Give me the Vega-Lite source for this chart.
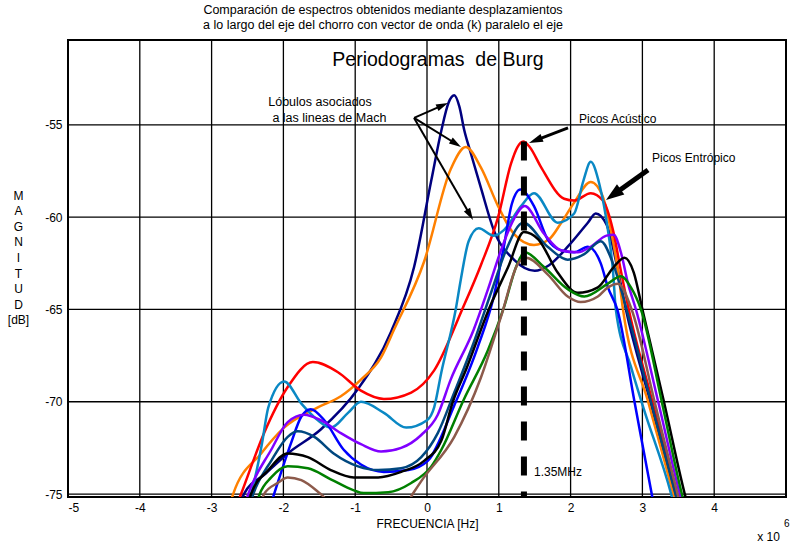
{
"$schema": "https://vega.github.io/schema/vega-lite/v6.json",
"width": 718, "height": 457,
"autosize": {"type": "none"},
"padding": {"left": 68, "top": 40, "right": 5, "bottom": 46},
"background": "white",
"title": {"text": ["Comparación de espectros obtenidos mediante desplazamientos", " a lo largo del eje del chorro con vector de onda (k) paralelo el eje"], "fontSize": 12.5, "fontWeight": "normal", "anchor": "middle", "dx": -44, "offset": 8, "lineHeight": 15, "color": "black", "font": "Liberation Sans"},
"datasets": {
"curves": [
{"s":"navy","x":-2.6,"y":-75.6},{"s":"navy","x":-2.55,"y":-75},{"s":"navy","x":-2.25,"y":-73.9},{"s":"navy","x":-1.94,"y":-72.8},{"s":"navy","x":-1.48,"y":-71.5},{"s":"navy","x":-0.96,"y":-69.3},{"s":"navy","x":-0.5,"y":-66.2},{"s":"navy","x":-0.18,"y":-62.7},{"s":"navy","x":0.06,"y":-58},{"s":"navy","x":0.2,"y":-55.3},{"s":"navy","x":0.3,"y":-53.8},{"s":"navy","x":0.38,"y":-53.4},{"s":"navy","x":0.45,"y":-54},{"s":"navy","x":0.52,"y":-55.3},{"s":"navy","x":0.6,"y":-56.4},{"s":"navy","x":0.75,"y":-58.4},{"s":"navy","x":0.93,"y":-60.7},{"s":"navy","x":1.21,"y":-62.3},{"s":"navy","x":1.5,"y":-62.9},{"s":"navy","x":1.7,"y":-62.6},{"s":"navy","x":1.96,"y":-61.6},{"s":"navy","x":2.24,"y":-60.3},{"s":"navy","x":2.35,"y":-59.8},{"s":"navy","x":2.5,"y":-60.4},{"s":"navy","x":2.66,"y":-62.9},{"s":"navy","x":2.77,"y":-65},{"s":"navy","x":3.11,"y":-70},{"s":"navy","x":3.45,"y":-75},{"s":"navy","x":3.49,"y":-75.6},
{"s":"orange","x":-2.75,"y":-75.6},{"s":"orange","x":-2.7,"y":-75},{"s":"orange","x":-2.31,"y":-72.8},{"s":"orange","x":-1.99,"y":-71.4},{"s":"orange","x":-1.52,"y":-70.3},{"s":"orange","x":-1.2,"y":-69.7},{"s":"orange","x":-0.92,"y":-68.8},{"s":"orange","x":-0.64,"y":-67.6},{"s":"orange","x":-0.46,"y":-66.1},{"s":"orange","x":-0.04,"y":-62.4},{"s":"orange","x":0.33,"y":-57.4},{"s":"orange","x":0.54,"y":-56.2},{"s":"orange","x":0.75,"y":-57.3},{"s":"orange","x":0.99,"y":-59.4},{"s":"orange","x":1.21,"y":-60.9},{"s":"orange","x":1.49,"y":-61.5},{"s":"orange","x":1.7,"y":-61.2},{"s":"orange","x":1.87,"y":-60.3},{"s":"orange","x":2.05,"y":-59.2},{"s":"orange","x":2.28,"y":-58.1},{"s":"orange","x":2.45,"y":-58.9},{"s":"orange","x":2.56,"y":-60.7},{"s":"orange","x":2.66,"y":-62.9},{"s":"orange","x":2.73,"y":-65},{"s":"orange","x":3.08,"y":-70},{"s":"orange","x":3.43,"y":-75},{"s":"orange","x":3.47,"y":-75.6},
{"s":"red","x":-2.65,"y":-75.6},{"s":"red","x":-2.59,"y":-75},{"s":"red","x":-2.27,"y":-71.7},{"s":"red","x":-1.94,"y":-69.2},{"s":"red","x":-1.59,"y":-67.85},{"s":"red","x":-1.24,"y":-68.4},{"s":"red","x":-0.92,"y":-69.4},{"s":"red","x":-0.6,"y":-69.85},{"s":"red","x":-0.22,"y":-69.5},{"s":"red","x":0.1,"y":-68.3},{"s":"red","x":0.49,"y":-65},{"s":"red","x":0.75,"y":-62.6},{"s":"red","x":0.99,"y":-60},{"s":"red","x":1.17,"y":-57.1},{"s":"red","x":1.26,"y":-56.2},{"s":"red","x":1.34,"y":-55.9},{"s":"red","x":1.43,"y":-56.2},{"s":"red","x":1.59,"y":-57.3},{"s":"red","x":1.91,"y":-59},{"s":"red","x":2.05,"y":-59.1},{"s":"red","x":2.28,"y":-58.7},{"s":"red","x":2.45,"y":-59.1},{"s":"red","x":2.59,"y":-60.7},{"s":"red","x":2.7,"y":-62.9},{"s":"red","x":2.81,"y":-65},{"s":"red","x":3.14,"y":-70},{"s":"red","x":3.47,"y":-75},{"s":"red","x":3.51,"y":-75.6},
{"s":"lightblue","x":-2.5,"y":-75.6},{"s":"lightblue","x":-2.45,"y":-75},{"s":"lightblue","x":-2.3,"y":-72.3},{"s":"lightblue","x":-2.21,"y":-70.3},{"s":"lightblue","x":-1.99,"y":-68.9},{"s":"lightblue","x":-1.75,"y":-70.1},{"s":"lightblue","x":-1.52,"y":-71},{"s":"lightblue","x":-1.34,"y":-71.4},{"s":"lightblue","x":-1.1,"y":-70.6},{"s":"lightblue","x":-0.92,"y":-70},{"s":"lightblue","x":-0.6,"y":-70.6},{"s":"lightblue","x":-0.29,"y":-71.4},{"s":"lightblue","x":0.0,"y":-71},{"s":"lightblue","x":0.1,"y":-70.3},{"s":"lightblue","x":0.2,"y":-68.4},{"s":"lightblue","x":0.4,"y":-65},{"s":"lightblue","x":0.47,"y":-63.4},{"s":"lightblue","x":0.58,"y":-61.3},{"s":"lightblue","x":0.72,"y":-60.6},{"s":"lightblue","x":0.93,"y":-61},{"s":"lightblue","x":1.07,"y":-60.7},{"s":"lightblue","x":1.31,"y":-59.4},{"s":"lightblue","x":1.49,"y":-58.7},{"s":"lightblue","x":1.82,"y":-60.3},{"s":"lightblue","x":2.05,"y":-59.8},{"s":"lightblue","x":2.18,"y":-58},{"s":"lightblue","x":2.28,"y":-57},{"s":"lightblue","x":2.4,"y":-58.2},{"s":"lightblue","x":2.52,"y":-60.7},{"s":"lightblue","x":2.59,"y":-62.9},{"s":"lightblue","x":2.63,"y":-65},{"s":"lightblue","x":2.84,"y":-68.1},{"s":"lightblue","x":3.02,"y":-70.4},{"s":"lightblue","x":3.4,"y":-75},{"s":"lightblue","x":3.44,"y":-75.6},
{"s":"blue","x":-2.18,"y":-75.6},{"s":"blue","x":-2.13,"y":-75},{"s":"blue","x":-1.89,"y":-72.2},{"s":"blue","x":-1.75,"y":-70.8},{"s":"blue","x":-1.62,"y":-70.4},{"s":"blue","x":-1.43,"y":-71},{"s":"blue","x":-1.16,"y":-72.6},{"s":"blue","x":-0.92,"y":-73.4},{"s":"blue","x":-0.6,"y":-73.8},{"s":"blue","x":-0.26,"y":-73.7},{"s":"blue","x":0.01,"y":-73.2},{"s":"blue","x":0.38,"y":-70.2},{"s":"blue","x":0.71,"y":-67},{"s":"blue","x":0.93,"y":-64.3},{"s":"blue","x":1.07,"y":-61.6},{"s":"blue","x":1.18,"y":-59.3},{"s":"blue","x":1.3,"y":-58.5},{"s":"blue","x":1.49,"y":-59.4},{"s":"blue","x":1.68,"y":-61.2},{"s":"blue","x":1.87,"y":-61.8},{"s":"blue","x":2.05,"y":-61.9},{"s":"blue","x":2.24,"y":-61.6},{"s":"blue","x":2.42,"y":-62.5},{"s":"blue","x":2.52,"y":-63.8},{"s":"blue","x":2.65,"y":-65},{"s":"blue","x":2.89,"y":-70},{"s":"blue","x":3.13,"y":-75},{"s":"blue","x":3.16,"y":-75.6},
{"s":"purple","x":-2.54,"y":-75.6},{"s":"purple","x":-2.49,"y":-75},{"s":"purple","x":-2.17,"y":-72.6},{"s":"purple","x":-1.94,"y":-71.1},{"s":"purple","x":-1.71,"y":-70.7},{"s":"purple","x":-1.48,"y":-71},{"s":"purple","x":-1.2,"y":-71.7},{"s":"purple","x":-0.92,"y":-72.3},{"s":"purple","x":-0.64,"y":-72.7},{"s":"purple","x":-0.36,"y":-72.5},{"s":"purple","x":-0.08,"y":-71.8},{"s":"purple","x":0.15,"y":-70.7},{"s":"purple","x":0.33,"y":-68.8},{"s":"purple","x":0.65,"y":-66.1},{"s":"purple","x":0.85,"y":-63.9},{"s":"purple","x":1.03,"y":-61.8},{"s":"purple","x":1.21,"y":-60.1},{"s":"purple","x":1.36,"y":-59.4},{"s":"purple","x":1.63,"y":-60.9},{"s":"purple","x":1.87,"y":-61.8},{"s":"purple","x":2.1,"y":-61.9},{"s":"purple","x":2.28,"y":-61.6},{"s":"purple","x":2.5,"y":-61},{"s":"purple","x":2.6,"y":-60.95},{"s":"purple","x":2.7,"y":-61.9},{"s":"purple","x":2.8,"y":-63.6},{"s":"purple","x":2.91,"y":-65},{"s":"purple","x":3.22,"y":-70},{"s":"purple","x":3.52,"y":-75},{"s":"purple","x":3.56,"y":-75.6},
{"s":"darkslate","x":-2.47,"y":-75.6},{"s":"darkslate","x":-2.42,"y":-75},{"s":"darkslate","x":-2.17,"y":-73.2},{"s":"darkslate","x":-1.94,"y":-71.9},{"s":"darkslate","x":-1.8,"y":-71.6},{"s":"darkslate","x":-1.57,"y":-71.9},{"s":"darkslate","x":-1.3,"y":-72.8},{"s":"darkslate","x":-0.96,"y":-73.5},{"s":"darkslate","x":-0.68,"y":-73.7},{"s":"darkslate","x":-0.36,"y":-73.6},{"s":"darkslate","x":-0.08,"y":-73},{"s":"darkslate","x":0.15,"y":-71.7},{"s":"darkslate","x":0.38,"y":-69.5},{"s":"darkslate","x":0.65,"y":-66.8},{"s":"darkslate","x":0.9,"y":-64},{"s":"darkslate","x":1.1,"y":-61.8},{"s":"darkslate","x":1.34,"y":-60.3},{"s":"darkslate","x":1.68,"y":-61.6},{"s":"darkslate","x":1.96,"y":-62.3},{"s":"darkslate","x":2.19,"y":-62},{"s":"darkslate","x":2.42,"y":-61.3},{"s":"darkslate","x":2.59,"y":-62.5},{"s":"darkslate","x":2.78,"y":-65},{"s":"darkslate","x":3.12,"y":-70},{"s":"darkslate","x":3.46,"y":-75},{"s":"darkslate","x":3.5,"y":-75.6},
{"s":"black","x":-2.5,"y":-75.6},{"s":"black","x":-2.45,"y":-75},{"s":"black","x":-2.21,"y":-73.7},{"s":"black","x":-1.94,"y":-72.8},{"s":"black","x":-1.66,"y":-73},{"s":"black","x":-1.34,"y":-73.7},{"s":"black","x":-1.02,"y":-74.1},{"s":"black","x":-0.68,"y":-74.1},{"s":"black","x":-0.36,"y":-73.8},{"s":"black","x":-0.04,"y":-73.2},{"s":"black","x":0.2,"y":-72.1},{"s":"black","x":0.36,"y":-70},{"s":"black","x":0.55,"y":-68.2},{"s":"black","x":0.86,"y":-65},{"s":"black","x":1.13,"y":-62.7},{"s":"black","x":1.35,"y":-60.8},{"s":"black","x":1.55,"y":-61.2},{"s":"black","x":1.82,"y":-63},{"s":"black","x":2.1,"y":-64.1},{"s":"black","x":2.38,"y":-63.8},{"s":"black","x":2.6,"y":-62.7},{"s":"black","x":2.75,"y":-62.2},{"s":"black","x":2.88,"y":-63},{"s":"black","x":3.0,"y":-65},{"s":"black","x":3.3,"y":-70},{"s":"black","x":3.59,"y":-75},{"s":"black","x":3.63,"y":-75.6},
{"s":"green","x":-2.38,"y":-75.6},{"s":"green","x":-2.33,"y":-75},{"s":"green","x":-2.17,"y":-74.1},{"s":"green","x":-1.94,"y":-73.5},{"s":"green","x":-1.66,"y":-73.6},{"s":"green","x":-1.34,"y":-74.2},{"s":"green","x":-1.02,"y":-74.8},{"s":"green","x":-0.88,"y":-74.95},{"s":"green","x":-0.54,"y":-74.9},{"s":"green","x":-0.22,"y":-74.4},{"s":"green","x":0.06,"y":-73.5},{"s":"green","x":0.2,"y":-72.6},{"s":"green","x":0.51,"y":-69.9},{"s":"green","x":0.85,"y":-67.2},{"s":"green","x":1.07,"y":-64.9},{"s":"green","x":1.25,"y":-62.6},{"s":"green","x":1.36,"y":-61.9},{"s":"green","x":1.63,"y":-62.7},{"s":"green","x":1.96,"y":-63.9},{"s":"green","x":2.19,"y":-64.3},{"s":"green","x":2.52,"y":-63.6},{"s":"green","x":2.7,"y":-63.2},{"s":"green","x":2.84,"y":-63.8},{"s":"green","x":2.98,"y":-65},{"s":"green","x":3.27,"y":-70},{"s":"green","x":3.55,"y":-75},{"s":"green","x":3.59,"y":-75.6},
{"s":"brown","x":-2.32,"y":-75.6},{"s":"brown","x":-2.27,"y":-75},{"s":"brown","x":-2.08,"y":-74.4},{"s":"brown","x":-1.94,"y":-74.1},{"s":"brown","x":-1.75,"y":-74.25},{"s":"brown","x":-1.48,"y":-75},{"s":"brown","x":-1.3,"y":-75.6},{"s":"brown","x":-0.3,"y":-75.6},{"s":"brown","x":-0.2,"y":-75},{"s":"brown","x":-0.08,"y":-74.3},{"s":"brown","x":0.38,"y":-71.9},{"s":"brown","x":0.75,"y":-68.7},{"s":"brown","x":1.03,"y":-65.4},{"s":"brown","x":1.27,"y":-62.5},{"s":"brown","x":1.38,"y":-62.2},{"s":"brown","x":1.68,"y":-63.1},{"s":"brown","x":1.96,"y":-64.3},{"s":"brown","x":2.14,"y":-64.6},{"s":"brown","x":2.38,"y":-64.3},{"s":"brown","x":2.52,"y":-63.8},{"s":"brown","x":2.66,"y":-63.6},{"s":"brown","x":2.85,"y":-65},{"s":"brown","x":3.17,"y":-70},{"s":"brown","x":3.49,"y":-75},{"s":"brown","x":3.53,"y":-75.6}
],
"gridx": [{"x": -5, "y": -75.16, "y2": -50.4}, {"x": -4, "y": -75.16, "y2": -50.4}, {"x": -3, "y": -75.16, "y2": -50.4}, {"x": -2, "y": -75.16, "y2": -50.4}, {"x": -1, "y": -75.16, "y2": -50.4}, {"x": 0, "y": -75.16, "y2": -50.4}, {"x": 1, "y": -75.16, "y2": -50.4}, {"x": 2, "y": -75.16, "y2": -50.4}, {"x": 3, "y": -75.16, "y2": -50.4}, {"x": 4, "y": -75.16, "y2": -50.4}],
"gridy": [{"y": -75, "x": -5, "x2": 5}, {"y": -70, "x": -5, "x2": 5}, {"y": -65, "x": -5, "x2": 5}, {"y": -60, "x": -5, "x2": 5}, {"y": -55, "x": -5, "x2": 5}]
},
"encoding": {
"x": {"field": "x", "type": "quantitative", "scale": {"domain": [-5, 5], "nice": false, "zero": false},
 "axis": {"values": [-5,-4,-3,-2,-1,0,1,2,3,4], "labelExpr": "replace(datum.label, '\u2212', '-')", "title": "FRECUENCIA [Hz]", "grid": false, "domain": false, "ticks": false, "labelFontSize": 12, "labelColor": "#000", "labelPadding": 5, "titleFontSize": 12, "titleFontWeight": "normal", "titleColor": "#000", "titlePadding": 5}},
"y": {"field": "y", "type": "quantitative", "scale": {"domain": [-75.16, -50.4], "nice": false, "zero": false},
 "axis": {"values": [-75,-70,-65,-60,-55], "labelExpr": "replace(datum.label, '\u2212', '-')", "title": ["M","A","G","N","I","T","U","D","[dB]"], "titleAngle": 0, "titleAlign": "center", "titleBaseline": "middle", "titleX": -50, "titleY": 155, "titleLineHeight": 15.6, "grid": false, "domain": false, "ticks": false, "labelFontSize": 12, "labelColor": "#000", "labelPadding": 6, "titleFontSize": 12, "titleFontWeight": "normal", "titleColor": "#000"}}
},
"layer": [
{"data": {"name": "gridx"}, "mark": {"type": "rule", "color": "#000000", "strokeWidth": 1.3}, "encoding": {"y2": {"field": "y2"}}},
{"data": {"name": "gridy"}, "mark": {"type": "rule", "color": "#000000", "strokeWidth": 1.3}, "encoding": {"x2": {"field": "x2"}}},
{"data": {"name": "curves"}, "mark": {"type": "line", "interpolate": "monotone", "clip": true, "strokeWidth": 2.5},
 "encoding": {"color": {"field": "s", "type": "nominal", "legend": null,
  "scale": {"domain": ["navy","orange","red","lightblue","blue","purple","darkslate","black","green","brown"],
            "range": ["#00007f","#ff8000","#ff0000","#0a88c4","#0000ff","#8000ff","#00477f","#000000","#008000","#8c5a4b"]}}}},
{"data": {"values": [{"x": 1.35, "y": -55.9, "y2": -75.16}]}, "mark": {"type": "rule", "color": "#000", "strokeWidth": 6, "strokeDash": [19, 16], "strokeCap": "butt"},
 "encoding": {"y2": {"field": "y2"}}},
{"data": {"values": [{"x": -0.18, "y": -54.62, "x2": 0.216, "y2": -53.94}, {"x": -0.18, "y": -54.62, "x2": 0.403, "y2": -56.02}, {"x": -0.18, "y": -54.62, "x2": 0.599, "y2": -59.87}]},
 "mark": {"type": "rule", "color": "#000", "strokeWidth": 2}, "encoding": {"x2": {"field": "x2"}, "y2": {"field": "y2"}}},
{"data": {"values": [{"x": 1.964, "y": -55.16, "x2": 1.511, "y2": -55.84}]},
 "mark": {"type": "rule", "color": "#000", "strokeWidth": 3}, "encoding": {"x2": {"field": "x2"}, "y2": {"field": "y2"}}},
{"data": {"values": [{"x": 3.078, "y": -57.44, "x2": 2.595, "y2": -58.78}]},
 "mark": {"type": "rule", "color": "#000", "strokeWidth": 5}, "encoding": {"x2": {"field": "x2"}, "y2": {"field": "y2"}}},
{"data": {"values": [{"x": 0.216, "y": -53.94}]}, "mark": {"type": "point", "shape": "M0,-1L0.6,1L-0.6,1Z", "filled": true, "color": "#000", "opacity": 1, "size": 144, "angle": 66}},
{"data": {"values": [{"x": 0.403, "y": -56.02}]}, "mark": {"type": "point", "shape": "M0,-1L0.6,1L-0.6,1Z", "filled": true, "color": "#000", "opacity": 1, "size": 144, "angle": 122}},
{"data": {"values": [{"x": 0.599, "y": -59.87}]}, "mark": {"type": "point", "shape": "M0,-1L0.6,1L-0.6,1Z", "filled": true, "color": "#000", "opacity": 1, "size": 144, "angle": 150}},
{"data": {"values": [{"x": 1.511, "y": -55.84}]}, "mark": {"type": "point", "shape": "M0,-1L0.6,1L-0.6,1Z", "filled": true, "color": "#000", "opacity": 1, "size": 196, "angle": 249}},
{"data": {"values": [{"x": 2.595, "y": -58.78}]}, "mark": {"type": "point", "shape": "M0,-1L0.7,1L-0.7,1Z", "filled": true, "color": "#000", "opacity": 1, "size": 324, "angle": 234.5}},
{"data": {"values": [{"x": 0.153, "y": -51.48, "t": "Periodogramas\u00a0 de Burg"}]}, "mark": {"type": "text", "fontSize": 19.5, "align": "center", "baseline": "middle", "color": "#000"}, "encoding": {"text": {"field": "t"}}},
{"data": {"values": [{"x": -1.49, "y": -53.75, "t": "Lóbulos asociados"}, {"x": -1.36, "y": -54.62, "t": "a las lineas de Mach"}]}, "mark": {"type": "text", "fontSize": 12.5, "align": "center", "baseline": "middle", "color": "#000"}, "encoding": {"text": {"field": "t"}}},
{"data": {"values": [{"x": 2.117, "y": -54.67, "t": "Picos Acústico"}, {"x": 3.134, "y": -56.79, "t": "Picos Entrópico"}, {"x": 1.49, "y": -73.81, "t": "1.35MHz"}, {"x": 4.6, "y": -77.33, "t": "x 10"}]}, "mark": {"type": "text", "fontSize": 12, "align": "left", "baseline": "middle", "color": "#000"}, "encoding": {"text": {"field": "t"}}},
{"data": {"values": [{"x": 5.01, "y": -76.63, "t": "6"}]}, "mark": {"type": "text", "fontSize": 10, "align": "center", "baseline": "middle", "color": "#000"}, "encoding": {"text": {"field": "t"}}}
],
"config": {"font": "Liberation Sans", "view": {"stroke": "#000", "strokeWidth": 2}}
}
